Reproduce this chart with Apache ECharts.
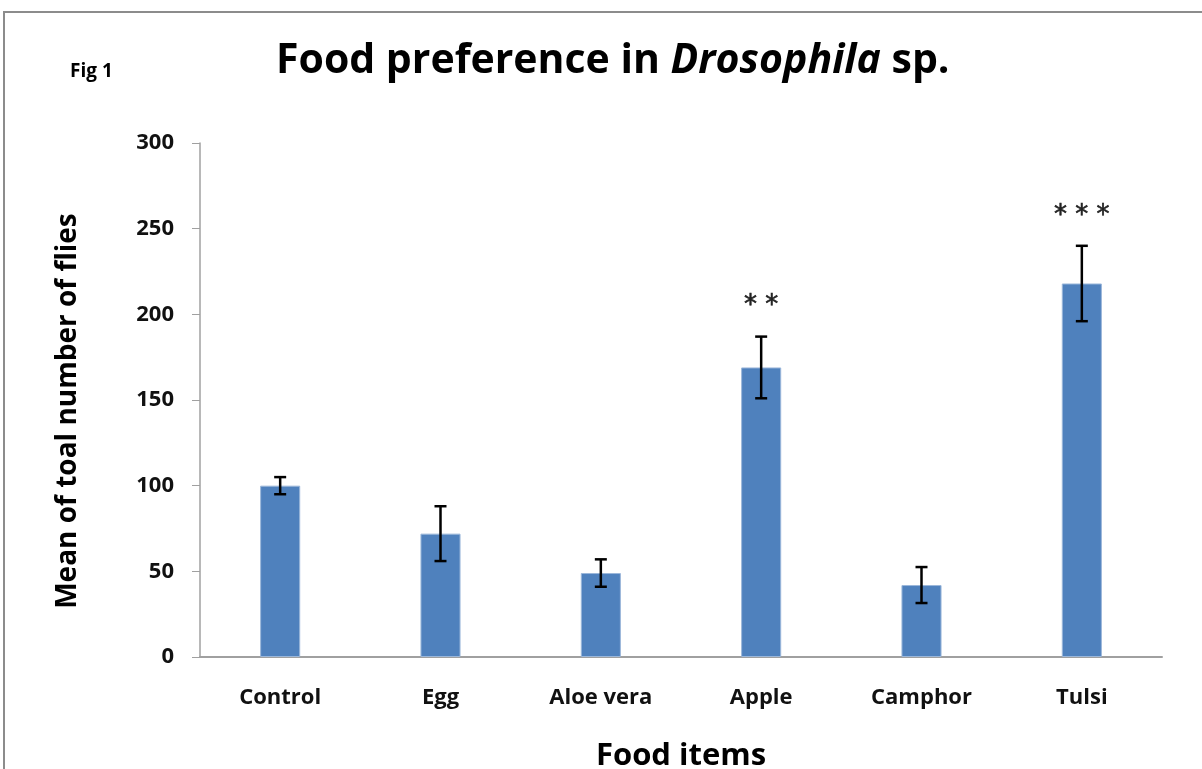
<!DOCTYPE html>
<html>
<head>
<meta charset="utf-8">
<script src="https://cdn.jsdelivr.net/npm/echarts@6/dist/echarts.min.js"></script>
<style>
  html, body { margin: 0; padding: 0; background: #fff; }
  #chart { width: 1202px; height: 769px; }
</style>
</head>
<body>
<div id="chart"></div>
<script>
var categories = ['Control', 'Egg', 'Aloe vera', 'Apple', 'Camphor', 'Tulsi'];
var means = [100, 72, 49, 169, 42, 218];
var errors = [5, 16, 8, 18, 10.5, 22];
var stars = ['', '', '', '**', '', '***'];
var yTicks = [0, 50, 100, 150, 200, 250, 300];

var chart = echarts.init(document.getElementById('chart'));

var errData = categories.map(function (c, i) {
  return [i, means[i] - errors[i], means[i] + errors[i], stars[i]];
});

var option = {
  backgroundColor: '#fff',
  animation: false,
  graphic: [{
    type: 'rect',
    shape: { x: 4, y: 12, width: 1210, height: 800 },
    style: { fill: 'none', stroke: '#8c8c8c', lineWidth: 2 }
  }, {
    type: 'text',
    left: 70, top: 62,
    style: { text: 'Fig 1', font: 'bold 19px "Open Sans"', fill: '#000' }
  }, {
    type: 'text',
    left: 276, top: 41,
    style: {
      text: '{b|Food preference in }{i|Drosophila}{b| sp.}',
      rich: {
        b: { font: 'bold 41px "Open Sans"', fill: '#000' },
        i: { font: 'italic bold 41px "Open Sans"', fill: '#000' }
      }
    }
  }, {
    // y-axis title, set a bit below the plot centre like the original
    type: 'text',
    x: 68, y: 411,
    rotation: Math.PI / 2,
    style: {
      text: 'Mean of toal number of flies',
      font: 'bold 28px "Open Sans"', fill: '#000',
      align: 'center', verticalAlign: 'middle'
    }
  }],
  grid: { left: 200, right: 40, top: 143, bottom: 112, outerBoundsMode: 'none' },
  xAxis: {
    type: 'category',
    data: categories,
    name: 'Food items',
    nameLocation: 'middle',
    nameGap: 84,
    nameTextStyle: { fontFamily: 'Open Sans', fontWeight: 'bold', fontSize: 31, color: '#000' },
    axisLine: { lineStyle: { color: '#a0a0a0', width: 2 } },
    axisTick: { show: false },
    axisLabel: { fontFamily: 'Open Sans', fontWeight: 'bold', fontSize: 22, color: '#111', margin: 30 }
  },
  yAxis: {
    type: 'value',
    min: 0, max: 300, interval: 50,
    splitLine: { show: false },
    axisLine: { show: true, lineStyle: { color: '#a0a0a0', width: 1.5 } },
    axisTick: { show: true, inside: false, length: 8, lineStyle: { color: '#a0a0a0' } },
    axisLabel: {
      fontFamily: 'Open Sans', fontWeight: 'bold', fontSize: 22, color: '#111', margin: 26,
      formatter: function (v) { return yTicks.indexOf(v) >= 0 ? String(v) : ''; }
    }
  },
  series: [{
    type: 'bar',
    data: means,
    barWidth: '25%',
    itemStyle: { color: '#4f81bd', borderColor: '#9bb7da', borderWidth: 1 }
  }, {
    type: 'custom',
    data: errData,
    z: 10,
    renderItem: function (params, api) {
      var x = api.coord([api.value(0), 0])[0];
      var lo = api.coord([api.value(0), api.value(1)])[1];
      var hi = api.coord([api.value(0), api.value(2)])[1];
      var cap = 6;
      var s = { stroke: '#000', lineWidth: 2.5 };
      var kids = [
        { type: 'line', shape: { x1: x, y1: lo, x2: x, y2: hi }, style: s },
        { type: 'line', shape: { x1: x - cap, y1: lo, x2: x + cap, y2: lo }, style: s },
        { type: 'line', shape: { x1: x - cap, y1: hi, x2: x + cap, y2: hi }, style: s }
      ];
      var st = stars[params.dataIndex];
      if (st) {
        kids.push({
          type: 'text',
          style: {
            text: st.split('').join(' '), x: x, y: hi - 30,
            align: 'center', verticalAlign: 'middle',
            font: '26px "DejaVu Sans"', fill: '#222', stroke: '#222', lineWidth: 0.6
          }
        });
      }
      return { type: 'group', children: kids };
    }
  }]
};

chart.setOption(option);
</script>
</body>
</html>
